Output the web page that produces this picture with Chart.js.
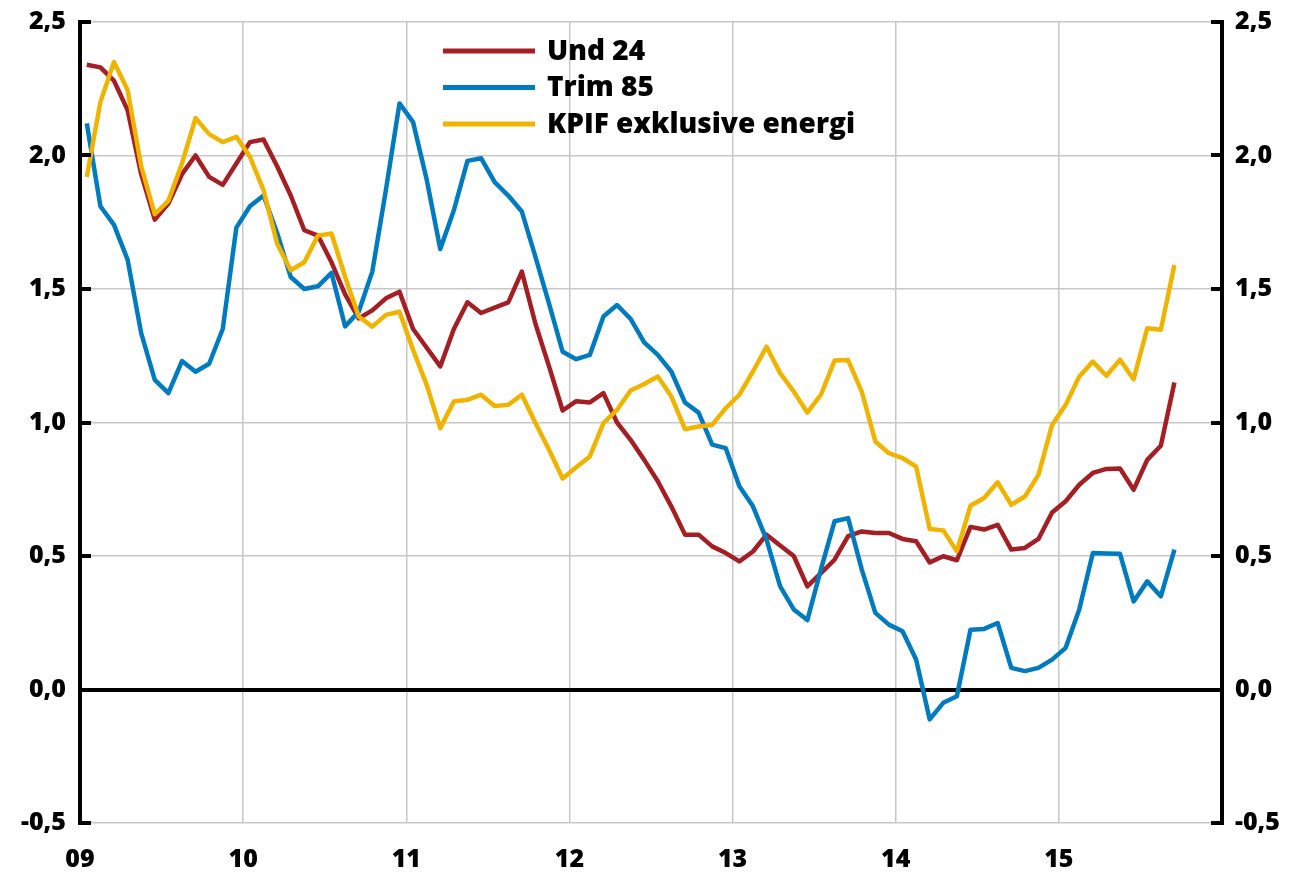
<!DOCTYPE html>
<html>
<head>
<meta charset="utf-8">
<script src="https://cdn.jsdelivr.net/npm/chart.js@4.4.1/dist/chart.umd.min.js"></script>
<style>
  html, body { margin: 0; padding: 0; background: #fff; }
  #wrap { width: 1291px; height: 876px; }
</style>
</head>
<body>
<div id="wrap"><canvas id="c" width="1291" height="876"></canvas></div>
<script>
// Tick labels of the x axis (start of each year)
const yearLabels = ['09', '10', '11', '12', '13', '14', '15'];
const seriesNames = ['Und 24', 'Trim 85', 'KPIF exklusive energi'];
const seriesColors = ['#A51E24', '#007BC0', '#F0B400'];

// Monthly values, Jan 2009 - Sep 2015
const und24 = [
  2.34, 2.33, 2.28, 2.17, 1.93, 1.76, 1.82, 1.93, 2.00, 1.92,
  1.89, 1.97, 2.05, 2.06, 1.96, 1.85, 1.72, 1.70, 1.60, 1.48,
  1.39, 1.42, 1.465, 1.49, 1.35, 1.28, 1.21, 1.35, 1.45, 1.41,
  1.43, 1.45, 1.565, 1.37, 1.21, 1.045, 1.08, 1.075, 1.11, 1.00,
  0.935, 0.86, 0.78, 0.685, 0.58, 0.58, 0.536, 0.511, 0.48, 0.517,
  0.58, 0.539, 0.50, 0.386, 0.436, 0.486, 0.574, 0.592, 0.586, 0.586,
  0.564, 0.555, 0.476, 0.499, 0.484, 0.609, 0.599, 0.617, 0.524, 0.53,
  0.564, 0.663, 0.705, 0.767, 0.811, 0.826, 0.828, 0.748, 0.86, 0.913,
  1.15
];
const trim85 = [
  2.12, 1.81, 1.74, 1.61, 1.335, 1.16, 1.11, 1.23, 1.19, 1.22,
  1.35, 1.73, 1.81, 1.85, 1.71, 1.545, 1.50, 1.51, 1.56, 1.36,
  1.415, 1.565, 1.87, 2.195, 2.125, 1.91, 1.65, 1.795, 1.98, 1.99,
  1.90, 1.85, 1.79, 1.62, 1.445, 1.265, 1.237, 1.253, 1.397, 1.44,
  1.388, 1.30, 1.253, 1.19, 1.075, 1.037, 0.917, 0.904, 0.761, 0.686,
  0.561, 0.386, 0.30, 0.26, 0.45, 0.63, 0.642, 0.45, 0.287, 0.243,
  0.218, 0.112, -0.112, -0.05, -0.025, 0.224, 0.227, 0.249, 0.081, 0.069,
  0.081, 0.112, 0.156, 0.30, 0.511, 0.509, 0.508, 0.33, 0.405, 0.349,
  0.524
];
const kpifExEnergi = [
  1.92, 2.20, 2.35, 2.245, 1.96, 1.78, 1.83, 1.97, 2.14, 2.08,
  2.05, 2.07, 1.995, 1.87, 1.67, 1.57, 1.60, 1.70, 1.708, 1.546,
  1.397, 1.359, 1.403, 1.415, 1.272, 1.141, 0.979, 1.079, 1.085, 1.104,
  1.062, 1.066, 1.104, 0.998, 0.898, 0.79, 0.832, 0.873, 0.998, 1.047,
  1.12, 1.144, 1.172, 1.097, 0.975, 0.985, 0.991, 1.054, 1.104, 1.191,
  1.284, 1.185, 1.116, 1.037, 1.104, 1.232, 1.234, 1.116, 0.929, 0.885,
  0.867, 0.835, 0.601, 0.596, 0.518, 0.688, 0.717, 0.776, 0.692, 0.723,
  0.804, 0.991, 1.066, 1.172, 1.228, 1.175, 1.235, 1.162, 1.353, 1.347,
  1.59
];

const FONT = '"Open Sans", "Noto Sans", sans-serif';
const WEIGHT = '800';

// monthly points placed mid-month on a month-index axis
const toPoints = arr => arr.map((v, i) => ({ x: i + 0.5, y: v }));

const fmtY = v => (Math.round(v * 10) / 10).toFixed(1).replace('.', ',');

const inwardTicks = {
  id: 'inwardTicks',
  afterDraw(chart) {
    const ctx = chart.ctx;
    const area = chart.chartArea;
    ctx.save();
    ctx.strokeStyle = '#000';
    ctx.lineWidth = 4;
    ['y', 'y2'].forEach(id => {
      const s = chart.scales[id];
      s.ticks.forEach(t => {
        const py = Math.round(s.getPixelForValue(t.value));
        ctx.beginPath();
        if (id === 'y') { ctx.moveTo(area.left - 2, py); ctx.lineTo(area.left + 11, py); }
        else { ctx.moveTo(area.right - 11, py); ctx.lineTo(area.right + 2, py); }
        ctx.stroke();
      });
    });
    ctx.restore();
  }
};

const innerLegend = {
  id: 'innerLegend',
  afterDraw(chart) {
    const ctx = chart.ctx;
    ctx.save();
    ctx.font = WEIGHT + ' 28px ' + FONT;
    ctx.textBaseline = 'middle';
    ctx.textAlign = 'left';
    chart.data.datasets.forEach((ds, k) => {
      const y = 51 + k * 36.5;
      ctx.strokeStyle = ds.borderColor;
      ctx.lineWidth = 5;
      ctx.beginPath();
      ctx.moveTo(443, y);
      ctx.lineTo(535, y);
      ctx.stroke();
      ctx.fillStyle = '#000';
      ctx.fillText(ds.label, 547, y + 1);
    });
    ctx.restore();
  }
};

const mkDs = (label, arr, color, order) => ({
  label, data: toPoints(arr), borderColor: color, backgroundColor: color,
  borderWidth: 4.5, pointRadius: 0, tension: 0, fill: false, order,
  borderJoinStyle: 'round', yAxisID: 'y'
});

const tickFont = { family: FONT, size: 25, weight: WEIGHT };

const fitVertical = w => s => { s.width = w; s.paddingTop = 0; s.paddingBottom = 0; };

const yScaleBase = {
  type: 'linear', min: -0.5, max: 2.5,
  ticks: {
    stepSize: 0.5, color: '#000', padding: 14,
    font: tickFont,
    callback: v => fmtY(v)
  },
  border: { display: true, color: '#000', width: 4 }
};

new Chart(document.getElementById('c'), {
  type: 'line',
  data: {
    datasets: [
      mkDs(seriesNames[0], und24, seriesColors[0], 3),
      mkDs(seriesNames[1], trim85, seriesColors[1], 2),
      mkDs(seriesNames[2], kpifExEnergi, seriesColors[2], 1)
    ]
  },
  options: {
    responsive: false,
    animation: false,
    devicePixelRatio: 1,
    layout: { padding: { top: 22, left: 0, right: 0, bottom: 0 } },
    plugins: { legend: { display: false }, tooltip: { enabled: false } },
    scales: {
      x: {
        type: 'linear', min: 0, max: yearLabels.length * 12,
        ticks: {
          stepSize: 12, color: '#000', padding: 22, maxRotation: 0,
          font: tickFont,
          callback: v => yearLabels[v / 12] !== undefined ? yearLabels[v / 12] : ''
        },
        grid: { color: '#c8c8c8', lineWidth: 1.5, drawTicks: false },
        border: { display: false },
        afterFit: s => { s.height = 53; s.paddingLeft = 0; s.paddingRight = 0; }
      },
      y: Object.assign({}, yScaleBase, {
        position: 'left',
        grid: {
          drawTicks: false,
          color: c => c.tick && c.tick.value === 0 ? '#000' : '#c8c8c8',
          lineWidth: c => c.tick && c.tick.value === 0 ? 4 : 1.5
        },
        afterFit: fitVertical(80)
      }),
      y2: Object.assign({}, yScaleBase, {
        position: 'right',
        grid: { display: false, drawTicks: false },
        ticks: Object.assign({}, yScaleBase.ticks, { padding: 13 }),
        afterFit: fitVertical(69)
      })
    }
  },
  plugins: [inwardTicks, innerLegend]
});
</script>
</body>
</html>
